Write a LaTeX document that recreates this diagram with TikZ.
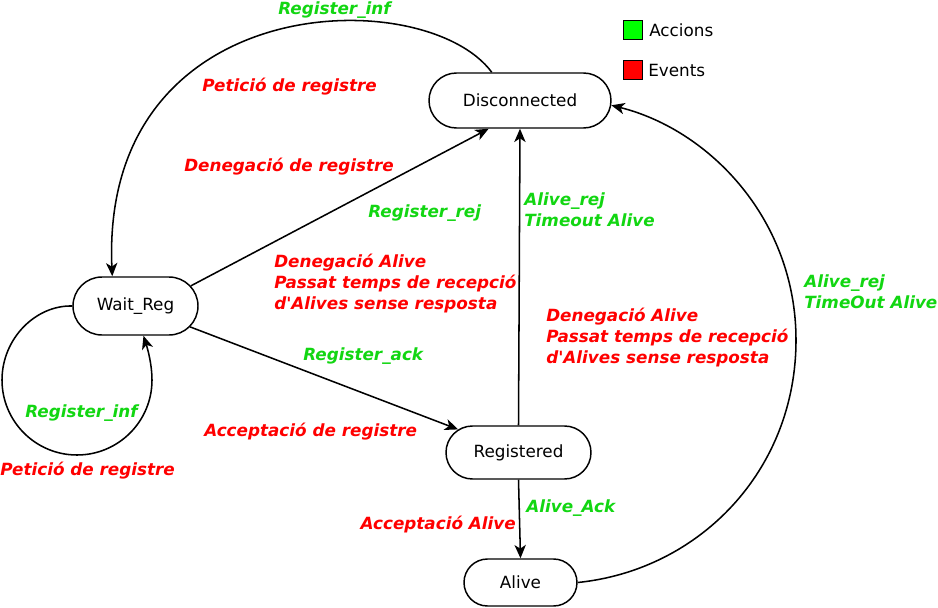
\documentclass[tikz,border=0pt]{standalone}
\usepackage{fontspec}
\setmainfont{DejaVu Sans}
\usetikzlibrary{positioning, shapes.misc, arrows.meta}
\definecolor{actgreen}{RGB}{18,214,18}
\definecolor{evtred}{RGB}{255,0,0}
\definecolor{boxgreen}{RGB}{0,255,0}
\newcommand{\statefont}{\fontsize{12.6}{15.75}\selectfont}
\newcommand{\labfont}{\fontsize{12.6}{15.75}\selectfont\bfseries\itshape}

\begin{document}
\begin{tikzpicture}[
  x=0.75pt, y=-0.75pt,
  state/.style={rounded rectangle, draw, line width=1.1pt, inner sep=0pt,
                font=\statefont},
  accio/.style={text=actgreen, font=\labfont, align=left, inner sep=0pt, anchor=west},
  event/.style={text=evtred, font=\labfont, align=left, inner sep=0pt, anchor=west},
  legbox/.style={draw, line width=1.4pt, minimum size=0.75pt*19, inner sep=0pt},
  line/.style={draw, line width=1.15pt, -{Stealth[length=10pt, width=8.5pt, inset=2.8pt]}}
]
\useasboundingbox (0,0) rectangle (938,607);
% Nodes
\node[state, minimum width=0.75pt*182, minimum height=0.75pt*55] (dis) at (520,100.5) {Disconnected};
\node[state, minimum width=0.75pt*125, minimum height=0.75pt*58] (wr) at (135.5,306) {Wait\_Reg};
\node[state, minimum width=0.75pt*145, minimum height=0.75pt*53] (reg) at (518.5,452.5) {Registered};
\node[state, minimum width=0.75pt*113, minimum height=0.75pt*47] (al) at (520.5,582.5) {Alive};
% Legend
\node[legbox, fill=boxgreen] (lga) at (633,30) {};
\node[font=\statefont, inner sep=0pt, anchor=west] (lgat) at (649,30) {Accions};
\node[legbox, fill=evtred] (lge) at (633,70) {};
\node[font=\statefont, inner sep=0pt, anchor=west] (lget) at (648,70) {Events};
% Edges
\path[line] (dis.135) .. controls (425,-18) and (100,-12) .. (wr.128);
\path[line] (wr.20) -- (dis.222);
\path[line] (wr) -- (reg);
\path[line] (wr.west) .. controls (35.6,305) and (2,338.6) .. (2,380)
  .. controls (2,421.4) and (35.6,455) .. (77,455)
  .. controls (118.4,455) and (152,421.4) .. (152,380)
  .. controls (152,365) and (148,350) .. (wr.-75);
\path[line] (reg.north) -- (dis.south);
\path[line] (reg.south) -- (al.north);
\path[line] (al.east) .. controls (700,570) and (796,470) .. (796,340)
  .. controls (796,220) and (710,130) .. (dis.-3);
% Labels
\node[accio] (l1) at (278,10) {Register\_inf};
\node[event] (l2) at (202,87) {Petició de registre};
\node[event] (l3) at (184,167) {Denegació de registre};
\node[accio] (l4) at (368,213) {Register\_rej};
\node[event] (l5) at (274,284) {Denegació Alive\\Passat temps de recepció\\d\textquotesingle Alives sense resposta};
\node[accio] (l6) at (524,209.5) {Alive\_rej\\Timeout Alive};
\node[event] (l7) at (546,338) {Denegació Alive\\Passat temps de recepció\\d\textquotesingle Alives sense resposta};
\node[accio] (l8) at (804,291.5) {Alive\_rej\\TimeOut Alive};
\node[accio] (l9) at (303,356) {Register\_ack};
\node[event] (l10) at (204,432) {Acceptació de registre};
\node[accio] (l11) at (25,413) {Register\_inf};
\node[event] (l12) at (0,471) {Petició de registre};
\node[accio] (l13) at (526,508) {Alive\_Ack};
\node[event, anchor=east] (l14) at (516,525) {Acceptació Alive};
\end{tikzpicture}
\end{document}
